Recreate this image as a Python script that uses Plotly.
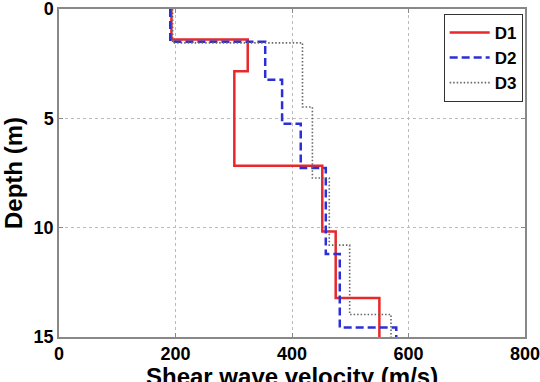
import plotly.graph_objects as go

# Layer boundaries (depth, m) and shear wave velocities (m/s)
d1_depths = [0, 1.4, 2.85, 7.17, 10.17, 13.22, 15]
d1_vs = [193, 324, 301, 452, 475, 550]

d2_depths = [0, 1.5, 3.24, 5.25, 7.27, 11.2, 14.57, 15]
d2_vs = [191, 354, 383, 415, 458, 482, 579]

d3_depths = [0, 1.55, 4.48, 7.73, 10.8, 13.97, 15]
d3_vs = [195, 418, 435, 464, 499, 570]

x_ticks = [0, 200, 400, 600, 800]
y_ticks = [0, 5, 10, 15]
x_title = "Shear wave velocity (m/s)"
y_title = "Depth (m)"


def step_profile(depths, vs):
    xs, ys = [], []
    for i, v in enumerate(vs):
        xs += [v, v]
        ys += [depths[i], depths[i + 1]]
    return xs, ys


FONT = "Arial, 'Liberation Sans', sans-serif"
fig = go.Figure()
for name, depths, vs, color, dash, width in [
    ("D1", d1_depths, d1_vs, "#e8282a", "solid", 2.5),
    ("D2", d2_depths, d2_vs, "#2b2fd6", "8px,4px", 2.5),
    ("D3", d3_depths, d3_vs, "#666666", "1.5px,2px", 1.6),
]:
    xs, ys = step_profile(depths, vs)
    fig.add_trace(go.Scatter(x=xs, y=ys, mode="lines", name=name,
                             line=dict(color=color, dash=dash, width=width)))

axis_common = dict(
    showline=True, linecolor="#888888", linewidth=1.5, mirror="ticks",
    ticks="inside", ticklen=4, tickcolor="#888888",
    showgrid=True, gridcolor="#bbbbbb", griddash="dot", gridwidth=1,
    zeroline=False, automargin=False, ticklabeloverflow="allow",
    tickfont=dict(family=FONT, size=18, color="black", weight="bold"),
)

fig.update_layout(
    width=540, height=382,
    margin=dict(l=59, r=15, t=9, b=45, autoexpand=False),
    paper_bgcolor="white", plot_bgcolor="white",
    font=dict(family=FONT, color="black"),
    xaxis=dict(range=[0, 800], tickvals=x_ticks, **axis_common),
    yaxis=dict(range=[15, 0], tickvals=y_ticks,
               title=dict(text="<b>" + y_title + "</b>",
                          font=dict(family=FONT, size=24, color="black")),
               **axis_common),
    legend=dict(x=0.995, y=0.985, xanchor="right", yanchor="top",
                bgcolor="white", bordercolor="#333333", borderwidth=1,
                font=dict(family=FONT, size=17, color="black", weight="bold"),
                tracegroupgap=0, itemwidth=40),
    showlegend=True,
    annotations=[dict(text="<b>" + x_title + "</b>", xref="paper", yref="paper",
                      x=0.5, y=0, xanchor="center", yanchor="top", yshift=-24,
                      showarrow=False,
                      font=dict(family=FONT, size=24, color="black"))],
)

fig.write_html("out.html")
